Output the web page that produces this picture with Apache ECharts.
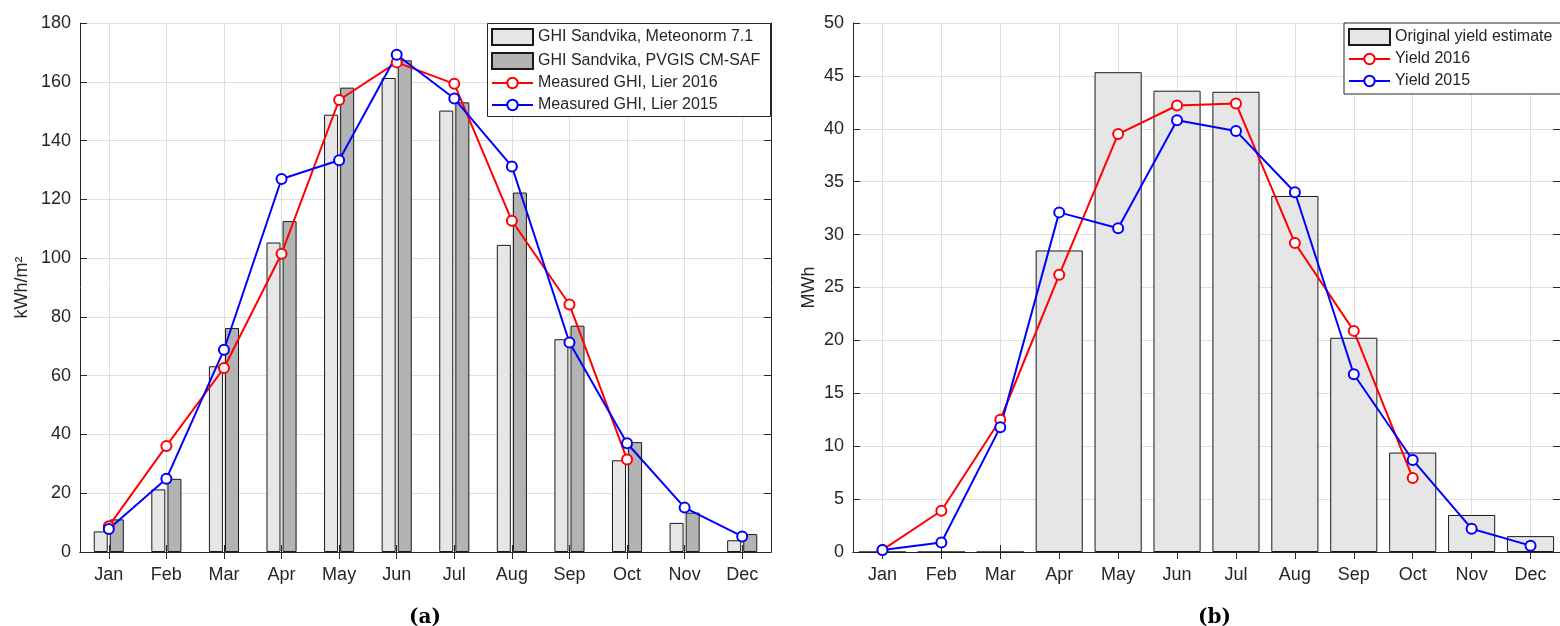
<!DOCTYPE html>
<html>
<head>
<meta charset="utf-8">
<script src="https://cdn.jsdelivr.net/npm/echarts@6/dist/echarts.min.js"></script>
<style>
  html, body { margin: 0; padding: 0; background: #fff; }
  #chart { width: 1560px; height: 626px; }
</style>
</head>
<body>
<div id="chart"></div>
<script>
// Month categories shared by both panels
const months = ['Jan', 'Feb', 'Mar', 'Apr', 'May', 'Jun', 'Jul', 'Aug', 'Sep', 'Oct', 'Nov', 'Dec'];

// Panel (a): monthly global horizontal irradiation, kWh/m2
const ghiMeteonorm = [7.0, 21.3, 63.2, 105.3, 148.8, 161.3, 150.2, 104.5, 72.4, 31.2, 9.9, 4.0];
const ghiPvgis = [11.1, 24.9, 76.2, 112.6, 158.0, 167.3, 153.0, 122.3, 77.0, 37.4, 13.4, 6.1];
const ghiLier2016 = [8.8, 36.1, 62.6, 101.5, 153.8, 166.6, 159.3, 112.7, 84.2, 31.5, null, null];
const ghiLier2015 = [7.8, 24.9, 68.8, 126.9, 133.3, 169.2, 154.3, 131.2, 71.3, 37.0, 15.1, 5.3];

// Panel (b): monthly energy yield, MWh
const yieldEstimate = [0, 0, 0, 28.5, 45.35, 43.6, 43.5, 33.65, 20.25, 9.4, 3.5, 1.5];
const yield2016 = [0.2, 3.9, 12.5, 26.2, 39.5, 42.2, 42.4, 29.2, 20.9, 7.0, null, null];
const yield2015 = [0.2, 0.9, 11.8, 32.1, 30.6, 40.8, 39.8, 34.0, 16.8, 8.7, 2.2, 0.6];

const FONT = '"Liberation Sans", Arial, Helvetica, sans-serif';
const INK = '#262626';
const GRID_LINE = '#dedede';

function bottomAxis(gridIndex) {
  return {
    type: 'category', gridIndex, position: 'bottom', data: months,
    axisLine: { show: true, lineStyle: { color: INK, width: 1 } },
    axisTick: { show: true, inside: true, length: 7, alignWithLabel: true, lineStyle: { color: INK } },
    axisLabel: { color: INK, fontSize: 18, fontFamily: FONT, margin: 14 },
    splitLine: { show: true, alignWithLabel: true, lineStyle: { color: GRID_LINE, width: 1 } }
  };
}
function topAxis(gridIndex) {
  return {
    type: 'category', gridIndex, position: 'top', data: months,
    axisLine: { show: true, lineStyle: { color: INK, width: 1 } },
    axisTick: { show: true, inside: true, length: 7, alignWithLabel: true, lineStyle: { color: INK } },
    axisLabel: { show: false }, splitLine: { show: false }
  };
}
function leftAxis(gridIndex, max, interval, name, gap) {
  return {
    type: 'value', gridIndex, position: 'left', min: 0, max, interval,
    name, nameLocation: 'middle', nameGap: gap,
    nameTextStyle: { color: INK, fontSize: 18, fontFamily: FONT },
    axisLine: { show: true, lineStyle: { color: INK, width: 1 } },
    axisTick: { show: true, inside: true, length: 7, lineStyle: { color: INK } },
    axisLabel: { color: INK, fontSize: 18, fontFamily: FONT, margin: 9 },
    splitLine: { show: true, lineStyle: { color: GRID_LINE, width: 1 } }
  };
}
function rightAxis(gridIndex, max, interval) {
  return {
    type: 'value', gridIndex, position: 'right', min: 0, max, interval,
    axisLine: { show: true, lineStyle: { color: INK, width: 1 } },
    axisTick: { show: true, inside: true, length: 7, lineStyle: { color: INK } },
    axisLabel: { show: false }, splitLine: { show: false }
  };
}
function lineSeries(name, data, color, xi, yi) {
  return {
    name, type: 'line', data, xAxisIndex: xi, yAxisIndex: yi,
    symbol: 'emptyCircle', symbolSize: 10,
    itemStyle: { color, borderColor: color, borderWidth: 2 },
    lineStyle: { color, width: 2 },
    z: 5, animation: false
  };
}
// Legend entries: swatches (16px tall) and line keys (smaller circle) are laid out
// as separate blocks inside one framed box drawn with a graphic rect.
function legendBlock(left, top, names, itemHeight) {
  return {
    orient: 'vertical', left, top, padding: 0,
    itemWidth: 41, itemHeight, itemGap: 6,
    textStyle: { color: INK, fontSize: 16, fontFamily: FONT, lineHeight: 16 },
    selectedMode: false, z: 6,
    data: names
  };
}
function legendFrame(x, y, w, h) {
  return {
    type: 'rect', left: x, top: y, z: 5, silent: true,
    shape: { width: w, height: h },
    style: { fill: '#fff', stroke: INK, lineWidth: 1 }
  };
}
const captionFont = 'bold 20px "DejaVu Serif", "Liberation Serif", serif';

const chart = echarts.init(document.getElementById('chart'), null, { renderer: 'canvas' });
chart.setOption({
  animation: false,
  grid: [
    { left: 80, top: 23, width: 691, height: 529 },
    { left: 853, top: 23, width: 707, height: 529 }
  ],
  xAxis: [bottomAxis(0), topAxis(0), bottomAxis(1), topAxis(1)],
  yAxis: [
    leftAxis(0, 180, 20, 'kWh/m²', 49),
    rightAxis(0, 180, 20),
    leftAxis(1, 50, 5, 'MWh', 35),
    rightAxis(1, 50, 5)
  ],
  legend: [
    legendBlock(491, 28, [
      { name: 'GHI Sandvika, Meteonorm 7.1', icon: 'rect' },
      { name: 'GHI Sandvika, PVGIS CM-SAF', icon: 'rect' }
    ], 16),
    legendBlock(491, 75, ['Measured GHI, Lier 2016', 'Measured GHI, Lier 2015'], 13),
    legendBlock(1348, 28, [
      { name: 'Original yield estimate', icon: 'rect' }
    ], 16),
    legendBlock(1348, 51, ['Yield 2016', 'Yield 2015'], 13)
  ],
  series: [
    {
      name: 'GHI Sandvika, Meteonorm 7.1', type: 'bar', data: ghiMeteonorm,
      xAxisIndex: 0, yAxisIndex: 0, barWidth: 14, barGap: '15%',
      itemStyle: { color: '#e6e6e6', borderColor: '#1a1a1a', borderWidth: 1 }
    },
    {
      name: 'GHI Sandvika, PVGIS CM-SAF', type: 'bar', data: ghiPvgis,
      xAxisIndex: 0, yAxisIndex: 0, barWidth: 14, barGap: '15%',
      itemStyle: { color: '#b3b3b3', borderColor: '#1a1a1a', borderWidth: 1 }
    },
    lineSeries('Measured GHI, Lier 2016', ghiLier2016, '#ff0000', 0, 0),
    lineSeries('Measured GHI, Lier 2015', ghiLier2015, '#0000ff', 0, 0),
    {
      name: 'Original yield estimate', type: 'bar', data: yieldEstimate,
      xAxisIndex: 2, yAxisIndex: 2, barWidth: '80%',
      itemStyle: { color: '#e6e6e6', borderColor: '#1a1a1a', borderWidth: 1 }
    },
    lineSeries('Yield 2016', yield2016, '#ff0000', 2, 2),
    lineSeries('Yield 2015', yield2015, '#0000ff', 2, 2)
  ],
  graphic: [
    legendFrame(487, 23, 283, 93),
    legendFrame(1343.5, 22.5, 230, 71),
    { type: 'text', left: 409, top: 608, style: { text: '(a)', font: captionFont, fill: '#000' } },
    { type: 'text', left: 1198, top: 608, style: { text: '(b)', font: captionFont, fill: '#000' } }
  ]
});
</script>
</body>
</html>
